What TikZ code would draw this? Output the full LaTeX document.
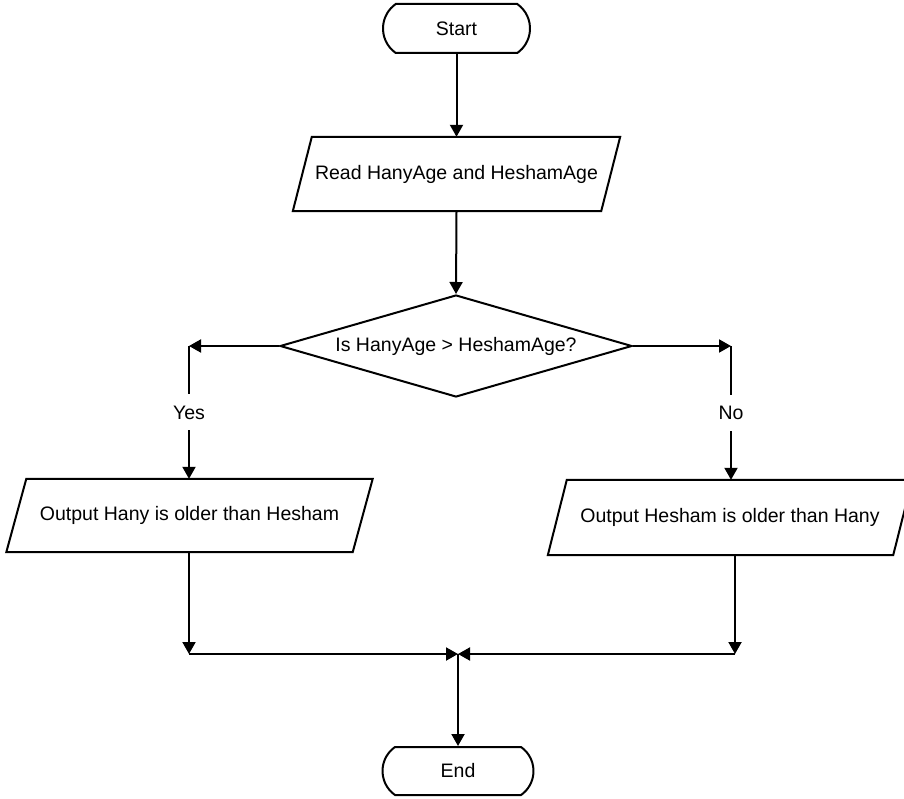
\documentclass[tikz,border=0pt]{standalone}
\usepackage{fontspec}
\setmainfont{Liberation Sans}
\usetikzlibrary{shapes.geometric,shapes.misc,arrows.meta}

\begin{document}
\begin{tikzpicture}[x=1pt,y=-1pt,
  every node/.style={font=\fontsize{19.5}{23}\selectfont},
  outline/.style={line width=2pt, line join=miter},
  flow/.style={line width=2pt, -{Triangle[length=12pt,width=13pt]}},
  term/.style={rounded rectangle, rounded rectangle arc length=110, draw, line width=2pt, inner sep=0pt},
  iobody/.style={rectangle, inner sep=0pt},
  decide/.style={diamond, aspect=3.45, draw, line width=2pt, inner sep=0pt},
  edgelabel/.style={fill=white, inner sep=2pt, minimum height=36pt}
]
\useasboundingbox (0,0) rectangle (904,799);

% terminals
\node[term, minimum width=147pt, minimum height=49pt] (start) at (456.5,28.5) {Start};
\node[term, minimum width=151pt, minimum height=48pt] (stop) at (458,771) {End};

% input / output boxes (parallelograms drawn around plain text nodes)
\node[iobody, minimum width=308pt, minimum height=74pt] (read) at (456.5,174) {Read HanyAge and HeshamAge};
\draw[outline] ([xshift=9.5pt]read.north west) -- ([xshift=9.5pt]read.north east)
  -- ([xshift=-9.5pt]read.south east) -- ([xshift=-9.5pt]read.south west) -- cycle;

\node[iobody, minimum width=346pt, minimum height=73pt] (yesout) at (189.5,515.5) {Output Hany is older than Hesham};
\draw[outline] ([xshift=10pt]yesout.north west) -- ([xshift=10pt]yesout.north east)
  -- ([xshift=-10pt]yesout.south east) -- ([xshift=-10pt]yesout.south west) -- cycle;

\node[iobody, minimum width=345pt, minimum height=75pt] (noout) at (730,517.5) {Output Hesham is older than Hany};
\draw[outline] ([xshift=9.5pt]noout.north west) -- ([xshift=9.5pt]noout.north east)
  -- ([xshift=-9.5pt]noout.south east) -- ([xshift=-9.5pt]noout.south west) -- cycle;

% decision
\node[decide, minimum width=352pt, minimum height=102pt] (dec) at (456,346) {Is HanyAge > HeshamAge?};

% bend points of the connectors
\coordinate (ycorner) at (189,346);
\coordinate (ncorner) at (731,346);
\coordinate (ybend) at (189,654);
\coordinate (nbend) at (735,654);
\coordinate (merge) at (458,654);

% connectors
\draw[flow] (start.south) -- (read.north);
\draw[flow] (read.south) -- (dec.north);
\draw[flow] (dec.west) -- (ycorner);
\draw[flow] (ycorner) -- node[edgelabel]{Yes} (ycorner |- yesout.north);
\draw[flow] (dec.east) -- (ncorner);
\draw[flow] (ncorner) -- node[edgelabel]{No} (ncorner |- noout.north);
\draw[flow] (yesout.south -| ybend) -- (ybend);
\draw[flow] (ybend) -- (merge);
\draw[flow] (noout.south -| nbend) -- (nbend);
\draw[flow] (nbend) -- (merge);
\draw[flow] (merge) -- (stop.north);
\end{tikzpicture}
\end{document}
